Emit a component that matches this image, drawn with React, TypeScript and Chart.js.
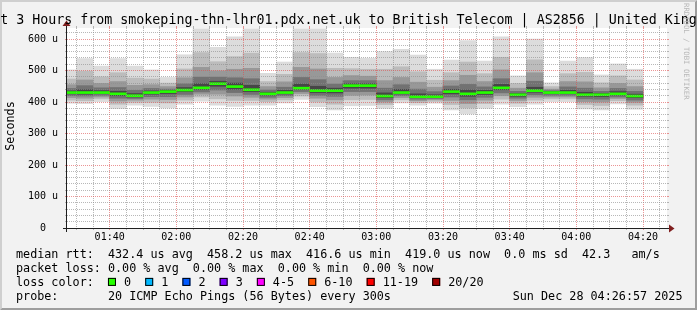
import React, { useEffect, useRef } from 'react';
import { Chart, registerables } from 'chart.js';

Chart.register(...registerables);

// ---------- texts ----------
const TITLE = 'Last 3 Hours from smokeping-thn-lhr01.pdx.net.uk to British Telecom | AS2856 | United Kingdom';
const Y_TITLE = 'Seconds';
const WATERMARK = 'RRDTOOL / TOBI OETIKER';
const rttStats = ['432.4 us avg', '458.2 us max', '416.6 us min', '419.0 us now', '0.0 ms sd', '42.3   am/s'];
const lossStats = ['0.00 % avg', '0.00 % max', '0.00 % min', '0.00 % now'];
const PROBE = '20 ICMP Echo Pings (56 Bytes) every 300s';
const STAMP = 'Sun Dec 28 04:26:57 2025';
const lossLabels = ['0', '1', '2', '3', '4-5', '6-10', '11-19', '20/20'];
const lossColors = ['#26ff00', '#00b8ff', '#0059ff', '#7e00ff', '#ff00ff', '#ff5500', '#ff0000', '#a10000'];

// ---------- data (end of each 5 minute step, values in microseconds) ----------
const intervalEnds = [
  '01:30', '01:35', '01:40', '01:45', '01:50', '01:55',
  '02:00', '02:05', '02:10', '02:15', '02:20', '02:25', '02:30', '02:35', '02:40', '02:45', '02:50', '02:55',
  '03:00', '03:05', '03:10', '03:15', '03:20', '03:25', '03:30', '03:35', '03:40', '03:45', '03:50', '03:55',
  '04:00', '04:05', '04:10', '04:15', '04:20',
];
const medianRtt = [430, 430, 430, 426, 420, 430, 433, 438, 445, 458.2, 449, 439, 426, 430, 444, 436, 436, 452, 452, 419, 430, 416.6, 417, 433, 426, 430, 445, 423, 436, 430, 430, 423, 423, 426, 419];
const rttMax = [502, 538, 514, 538, 514, 502, 478, 550, 632, 574, 607, 632, 491, 527, 632, 632, 555, 542, 539, 560, 567, 549, 504, 533, 595, 530, 607, 483, 600, 461, 530, 541, 486, 521, 504];
const rttP85 = [473, 498, 480, 493, 476, 473, 460, 505, 557, 528, 544, 555, 465, 488, 557, 554, 507, 506, 504, 504, 512, 496, 469, 493, 527, 490, 542, 459, 534, 449, 490, 494, 461, 483, 470];
const rttP75 = [455, 470, 459, 465, 453, 455, 449, 477, 510, 499, 504, 507, 449, 464, 510, 505, 478, 484, 482, 468, 478, 463, 447, 468, 485, 465, 502, 444, 493, 441, 465, 464, 445, 459, 449];
const rttP65 = [443, 452, 445, 446, 437, 443, 441, 458, 479, 479, 477, 474, 438, 447, 478, 471, 457, 468, 468, 444, 455, 441, 433, 451, 456, 448, 474, 434, 466, 436, 448, 444, 434, 443, 434];
const rttP55 = [435, 439, 436, 434, 427, 435, 437, 446, 458, 466, 460, 453, 431, 437, 457, 450, 444, 458, 458, 429, 440, 426, 423, 440, 438, 437, 456, 427, 447, 433, 437, 431, 427, 433, 425];
const rttP45 = [426, 425, 427, 420, 416, 425, 427, 433, 440, 450, 441, 433, 422, 426, 440, 430, 429, 444, 444, 414, 426, 414, 414, 426, 418, 424, 439, 418, 431, 427, 427, 418, 417, 422, 414];
const rttP35 = [420, 419, 421, 412, 411, 417, 417, 424, 432, 438, 430, 424, 415, 420, 433, 421, 418, 433, 433, 407, 420, 409, 411, 416, 407, 415, 429, 412, 423, 421, 421, 410, 409, 416, 406];
const rttP25 = [414, 412, 416, 403, 406, 409, 408, 416, 425, 425, 419, 415, 409, 414, 427, 412, 407, 421, 422, 400, 414, 404, 407, 405, 395, 406, 420, 405, 415, 416, 416, 401, 400, 411, 399];
const rttP15 = [406, 404, 410, 393, 399, 399, 397, 406, 416, 410, 405, 405, 401, 407, 419, 400, 393, 407, 408, 392, 407, 398, 402, 392, 381, 395, 409, 396, 406, 410, 410, 392, 389, 404, 390];
const rttMin = [396, 395, 401, 379, 390, 386, 381, 393, 403, 390, 386, 390, 390, 397, 408, 385, 375, 388, 389, 380, 397, 390, 396, 375, 362, 380, 393, 385, 393, 401, 401, 378, 375, 394, 377];

const xMajorLabels = ['01:40', '02:00', '02:20', '02:40', '03:00', '03:20', '03:40', '04:00', '04:20'];

// ---------- axis config ----------
const STEP = 5; // minutes per rrd step
const X_MIN = 87.2; // minutes after midnight (graph start)
const X_MAX = X_MIN + 180;
const Y_MAX = 635;
const PLOT_H = 200;
const W = 697;
const H = 310;

const toMin = (s: string) => {
  const [h, m] = s.split(':').map(Number);
  return h * 60 + m;
};
const fmt = (v: number) => {
  const h = Math.floor(v / 60);
  const m = Math.round(v - h * 60);
  return String(h).padStart(2, '0') + ':' + String(m).padStart(2, '0');
};

const xTicks: number[] = [];
for (let t = toMin(intervalEnds[0]); t <= X_MAX; t += STEP) xTicks.push(t);
const yTicks: number[] = [];
for (let v = 0; v <= Y_MAX; v += 20) yTicks.push(v);

const xCenters = intervalEnds.map((t) => toMin(t) - STEP / 2);
const band = (lo: number[], hi: number[]) => lo.map((v, i) => ({ x: xCenters[i], y: [v, hi[i]] }));
const halfLine = Y_MAX / PLOT_H; // one pixel in value units

const MINOR = 'rgba(140,140,140,0.62)';
const MAJOR = 'rgba(222,79,79,0.6)';
const MONO = "'DejaVu Sans Mono', monospace";

const barCommon = { grouped: false, barPercentage: 1, categoryPercentage: 1, borderWidth: 0 };

const decor = {
  id: 'smokeDecor',
  beforeDraw(chart: any) {
    const { ctx, chartArea: a } = chart;
    ctx.save();
    ctx.fillStyle = '#f2f2f2';
    ctx.fillRect(0, 0, W, H);
    ctx.fillStyle = '#cfcfcf';
    ctx.beginPath();
    ctx.moveTo(0, H); ctx.lineTo(2, H - 2); ctx.lineTo(2, 2); ctx.lineTo(W - 2, 2); ctx.lineTo(W, 0); ctx.lineTo(0, 0);
    ctx.closePath(); ctx.fill();
    ctx.fillStyle = '#9e9e9e';
    ctx.beginPath();
    ctx.moveTo(2, H - 2); ctx.lineTo(W - 2, H - 2); ctx.lineTo(W - 2, 2); ctx.lineTo(W, 0); ctx.lineTo(W, H); ctx.lineTo(0, H);
    ctx.closePath(); ctx.fill();
    ctx.fillStyle = '#ffffff';
    ctx.fillRect(a.left, a.top, a.right - a.left, a.bottom - a.top);
    ctx.restore();
  },
  afterDraw(chart: any) {
    const { ctx, chartArea: a, scales } = chart;
    const xs = scales.x;
    const ys = scales.y;
    ctx.save();
    // opposite-side tick marks
    for (const v of yTicks) {
      if (v === 0) continue;
      const r = Math.round(ys.getPixelForValue(v) - 0.5);
      ctx.fillStyle = v % 100 === 0 ? MAJOR : MINOR;
      ctx.fillRect(a.right, r, 2, 1);
    }
    for (const v of xTicks) {
      const c = Math.round(xs.getPixelForValue(v) - 0.5);
      ctx.fillStyle = xMajorLabels.includes(fmt(v)) ? MAJOR : MINOR;
      ctx.fillRect(c, a.top - 2, 1, 2);
    }
    // axes
    ctx.fillStyle = '#1f1f1f';
    ctx.fillRect(a.left - 4, a.bottom, a.right - a.left + 8, 1);
    ctx.fillRect(a.left - 1, a.top - 4, 1, a.bottom - a.top + 8);
    ctx.fillStyle = '#801f1f';
    ctx.beginPath();
    ctx.moveTo(a.right + 2, a.bottom - 3.5); ctx.lineTo(a.right + 2, a.bottom + 4.5); ctx.lineTo(a.right + 7.5, a.bottom + 0.5);
    ctx.closePath(); ctx.fill();
    ctx.beginPath();
    ctx.moveTo(a.left - 4.5, a.top - 2); ctx.lineTo(a.left + 3.5, a.top - 2); ctx.lineTo(a.left - 0.5, a.top - 7.5);
    ctx.closePath(); ctx.fill();

    // title
    ctx.fillStyle = '#000000';
    ctx.textBaseline = 'alphabetic';
    ctx.textAlign = 'center';
    ctx.font = `13.3px ${MONO}`;
    ctx.fillText(TITLE, W / 2, 24);

    // legend
    ctx.font = `11.76px ${MONO}`;
    ctx.textAlign = 'left';
    const cw = ctx.measureText('0').width;
    const x0 = 16;
    const base = [257.5, 271.7, 285.9, 300.1];
    ctx.fillText('median rtt:  ' + rttStats.join('  '), x0, base[0]);
    ctx.fillText('packet loss: ' + lossStats.join('  '), x0, base[1]);
    ctx.fillText('loss color:', x0, base[2]);
    let bx = x0 + 13 * cw;
    lossLabels.forEach((lab, i) => {
      ctx.fillStyle = lossColors[i];
      ctx.fillRect(bx, base[2] - 8, 8, 8);
      ctx.strokeStyle = '#000000';
      ctx.lineWidth = 1;
      ctx.strokeRect(bx + 0.5, base[2] - 7.5, 7, 7);
      ctx.fillStyle = '#000000';
      const lx = bx + 16;
      ctx.fillText(lab, lx, base[2]);
      bx = lx + ctx.measureText(lab).width + 2 * cw;
    });
    ctx.fillText('probe:       ' + PROBE, x0, base[3]);
    ctx.textAlign = 'right';
    ctx.fillText(STAMP, 682.5, base[3]);

    // vertical axis title
    ctx.save();
    ctx.translate(10.5, 126);
    ctx.rotate(-Math.PI / 2);
    ctx.textAlign = 'center';
    ctx.textBaseline = 'middle';
    ctx.fillText(Y_TITLE, 0, 0);
    ctx.restore();

    // watermark
    ctx.save();
    ctx.translate(683, 3);
    ctx.rotate(Math.PI / 2);
    ctx.textAlign = 'left';
    ctx.textBaseline = 'middle';
    ctx.font = `7.3px ${MONO}`;
    ctx.fillStyle = '#b8b8b8';
    ctx.fillText(WATERMARK, 0, -2.5);
    ctx.restore();

    ctx.restore();
  },
};

export default function App() {
  const ref = useRef<HTMLCanvasElement | null>(null);
  useEffect(() => {
    document.body.style.margin = '0';
    const datasets: any[] = [
      { label: 'median rtt', data: medianRtt.map((m, i) => ({ x: xCenters[i], y: [m - halfLine, m + halfLine] })), backgroundColor: lossColors[0], ...barCommon },
      { label: 'smoke 45-55', data: band(rttP45, rttP55), backgroundColor: '#464646', ...barCommon },
      { label: 'smoke 35-65', data: band(rttP35, rttP65), backgroundColor: '#727272', ...barCommon },
      { label: 'smoke 25-75', data: band(rttP25, rttP75), backgroundColor: '#989898', ...barCommon },
      { label: 'smoke 15-85', data: band(rttP15, rttP85), backgroundColor: '#bcbcbc', ...barCommon },
      { label: 'smoke min-max', data: band(rttMin, rttMax), backgroundColor: '#dcdcdc', ...barCommon },
    ];
    const chart = new Chart(ref.current as HTMLCanvasElement, {
      type: 'bar',
      data: { datasets },
      options: {
        animation: false,
        responsive: false,
        devicePixelRatio: 1,
        events: [],
        layout: { padding: { left: 0, right: 30, top: 28, bottom: 0 } },
        plugins: { legend: { display: false }, tooltip: { enabled: false }, title: { display: false } },
        scales: {
          x: {
            type: 'linear',
            min: X_MIN,
            max: X_MAX,
            offset: false,
            afterBuildTicks: (s: any) => { s.ticks = xTicks.map((v) => ({ value: v })); },
            afterFit: (s: any) => { s.height = H - 228; },
            grid: {
              offset: false,
              z: 1,
              lineWidth: 1,
              drawTicks: true,
              tickLength: 2,
              color: (c: any) => (xMajorLabels.includes(fmt(c.tick.value)) ? MAJOR : MINOR),
              tickColor: (c: any) => (xMajorLabels.includes(fmt(c.tick.value)) ? MAJOR : MINOR),
            },
            border: { display: false, dash: [1, 1] },
            ticks: {
              autoSkip: false,
              maxRotation: 0,
              minRotation: 0,
              padding: 1,
              color: '#000000',
              font: { family: MONO, size: 10 },
              callback: (v: any) => (xMajorLabels.includes(fmt(Number(v))) ? fmt(Number(v)) : ''),
            },
          },
          y: {
            type: 'linear',
            min: 0,
            max: Y_MAX,
            afterBuildTicks: (s: any) => { s.ticks = yTicks.map((v) => ({ value: v })); },
            afterFit: (s: any) => { s.width = 67; },
            grid: {
              z: 1,
              lineWidth: 1,
              drawTicks: true,
              tickLength: 2,
              color: (c: any) => (c.tick.value === 0 ? 'rgba(0,0,0,0)' : c.tick.value % 100 === 0 ? MAJOR : MINOR),
              tickColor: (c: any) => (c.tick.value % 100 === 0 ? MAJOR : MINOR),
            },
            border: { display: false, dash: [1, 1] },
            ticks: {
              autoSkip: false,
              padding: 7,
              color: '#000000',
              font: { family: MONO, size: 10 },
              callback: (v: any) => (Number(v) % 100 === 0 ? (Number(v) === 0 ? '0  ' : `${v} u`) : ''),
            },
          },
        },
      },
      plugins: [decor],
    } as any);
    return () => chart.destroy();
  }, []);
  return (
    <div style={{ position: 'fixed', left: 0, top: 0, width: W, height: H }}>
      <canvas ref={ref} width={W} height={H} style={{ display: 'block', width: W, height: H }} />
    </div>
  );
}
